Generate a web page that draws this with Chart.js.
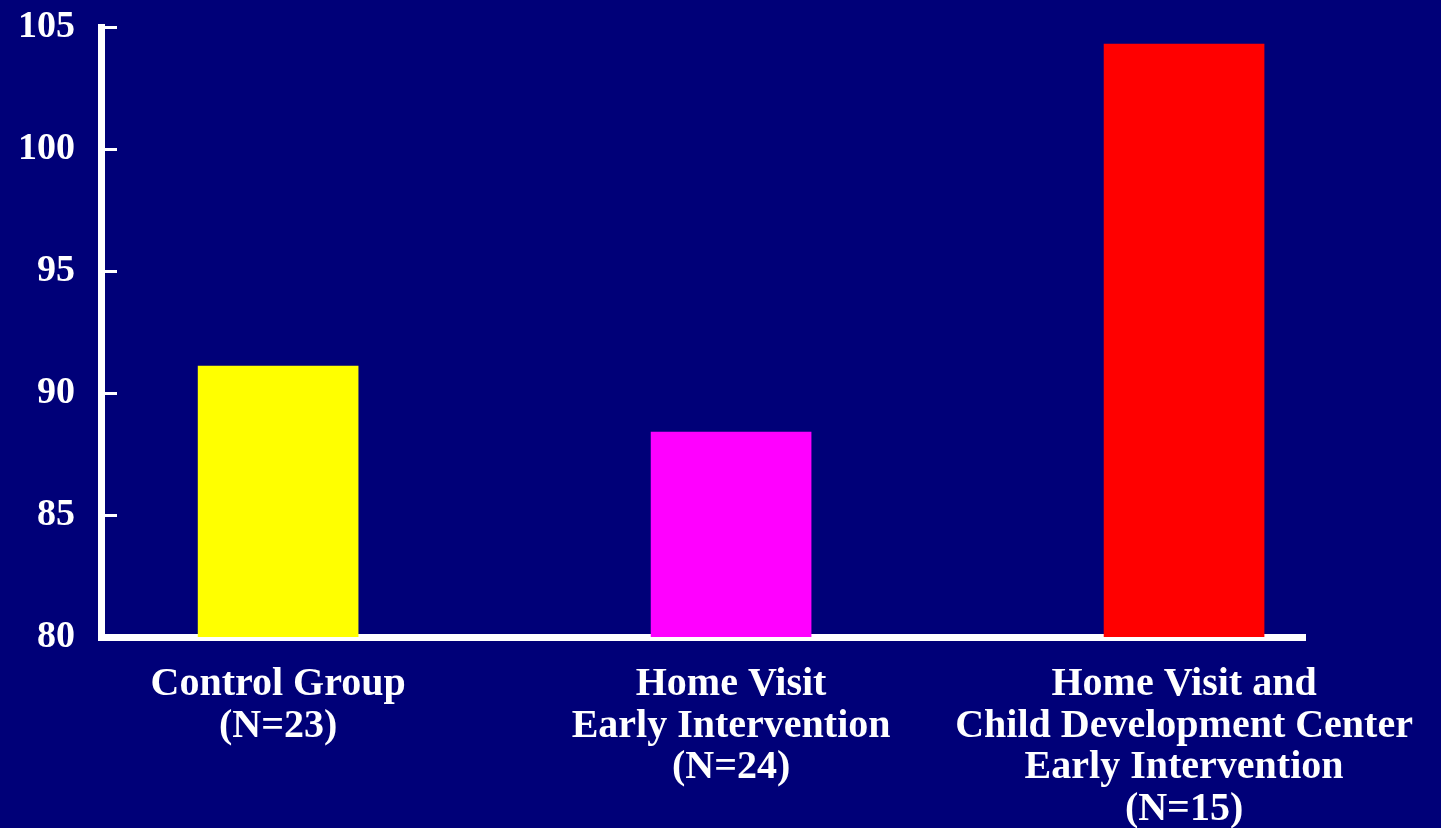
<!DOCTYPE html>
<html>
<head>
<meta charset="utf-8">
<title>Mean scores by intervention group</title>
<script src="https://cdn.jsdelivr.net/npm/chart.js@4/dist/chart.umd.min.js"></script>
<style>
  html, body { margin: 0; padding: 0; background: #000078; }
  #wrap { position: relative; width: 1441px; height: 828px; }
</style>
</head>
<body>
<div id="wrap"><canvas id="chart"></canvas></div>
<script>
// Groups (each label is a list of lines)
const categories = [
  ['Control Group', '(N=23)'],
  ['Home Visit', 'Early Intervention', '(N=24)'],
  ['Home Visit and', 'Child Development Center', 'Early Intervention', '(N=15)']
];
// Mean score per group
const scores = [91.1, 88.4, 104.3];
const barColors = ['#ffff00', '#ff00ff', '#ff0000'];
// Value axis
const yTicks = [80, 85, 90, 95, 100, 105];

const AXIS = '#ffffff';
const FONT = '"Liberation Serif", "Times New Roman", serif';

// Short tick marks pointing into the plot from the value axis
const innerTicks = {
  id: 'innerTicks',
  afterDraw(chart) {
    const { ctx, chartArea, scales } = chart;
    ctx.save();
    ctx.strokeStyle = AXIS;
    ctx.lineWidth = 3;
    yTicks.forEach(v => {
      const y = Math.round(scales.y.getPixelForValue(v)) + 0.5;
      ctx.beginPath();
      ctx.moveTo(chartArea.left, y);
      ctx.lineTo(chartArea.left + 16, y);
      ctx.stroke();
    });
    ctx.restore();
  }
};

// Invisible outer tick marks: they only set the gap between axis and labels
const hiddenTickGrid = len => ({
  display: true,
  drawOnChartArea: false,
  drawTicks: true,
  tickLength: len,
  tickColor: 'rgba(0,0,0,0)'
});

new Chart(document.getElementById('chart'), {
  type: 'bar',
  data: {
    datasets: [{
      data: scores.map((v, i) => ({ x: i, y: v })),
      backgroundColor: barColors,
      borderWidth: 0,
      barThickness: 160
    }]
  },
  options: {
    responsive: true,
    maintainAspectRatio: false,
    animation: false,
    layout: { padding: { top: 27, right: 136, left: 0, bottom: 0 } },
    plugins: { legend: { display: false }, tooltip: { enabled: false } },
    scales: {
      x: {
        type: 'linear',
        offset: false,
        min: -0.391,
        max: 2.267,
        afterBuildTicks(scale) { scale.ticks = categories.map((_, i) => ({ value: i })); },
        afterFit(scale) { scale.height = 191; },
        grid: hiddenTickGrid(27),
        border: { display: true, color: AXIS, width: 7 },
        ticks: {
          autoSkip: false,
          maxRotation: 0,
          padding: 0,
          color: AXIS,
          font: { family: FONT, size: 40, weight: 'bold', lineHeight: 1.04 },
          callback: v => categories[Math.round(v)]
        }
      },
      y: {
        min: 80,
        max: 105,
        afterBuildTicks(scale) { scale.ticks = yTicks.map(v => ({ value: v })); },
        afterFit(scale) { scale.width = 101; },
        grid: hiddenTickGrid(26),
        border: { display: true, color: AXIS, width: 7 },
        ticks: {
          padding: 0,
          color: AXIS,
          font: { family: FONT, size: 38, weight: 'bold' }
        }
      }
    }
  },
  plugins: [innerTicks]
});
</script>
</body>
</html>
